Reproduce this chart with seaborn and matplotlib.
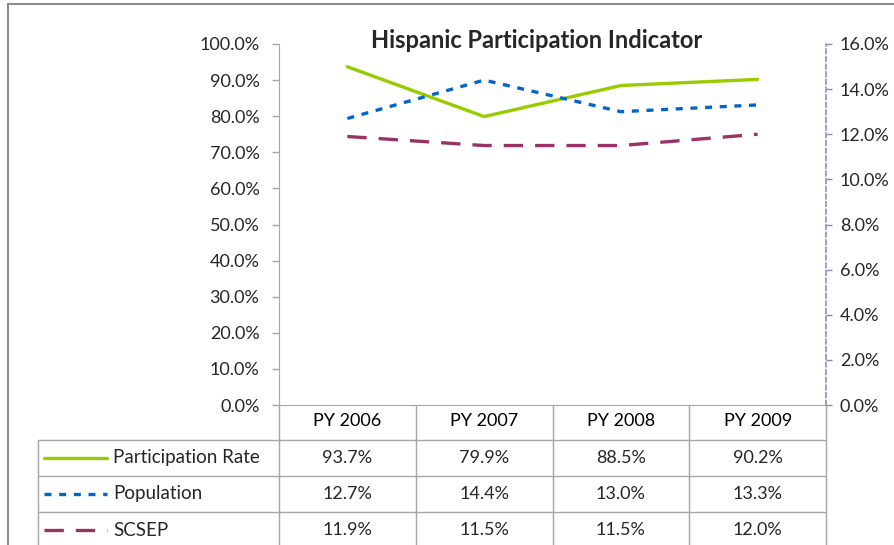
import matplotlib
matplotlib.use("Agg")
import matplotlib.pyplot as plt
import seaborn as sns
import pandas as pd
from matplotlib.lines import Line2D
from matplotlib.ticker import PercentFormatter

# --- Data ---
years = ["PY 2006", "PY 2007", "PY 2008", "PY 2009"]
participation = [0.937, 0.799, 0.885, 0.902]
population = [0.127, 0.144, 0.130, 0.133]
scsep = [0.119, 0.115, 0.115, 0.120]

GREEN = "#99CC00"
BLUE = "#0066CC"
MAROON = "#993366"
GRID = "#A6A6A6"
RAXIS = "#8686B8"

W, H = 894, 545
sns.set_style("white")
plt.rcParams["font.family"] = ["Lato", "DejaVu Sans"]
FS = 13


def fx(px):
    return px / W


def fy(py):
    return 1 - py / H


fig = plt.figure(figsize=(W / 100, H / 100), dpi=100)

# plot area in pixel coordinates
x0, x1, ytop, ybot = 279, 826, 44, 405
ax = fig.add_axes([fx(x0), fy(ybot), fx(x1) - fx(x0), fy(ytop) - fy(ybot)])
ax2 = ax.twinx()

df = pd.DataFrame({"year": years, "participation": participation,
                   "population": population, "scsep": scsep})

sns.lineplot(data=df, x="year", y="participation", ax=ax, color=GREEN,
             linewidth=2.4, sort=False)
sns.lineplot(data=df, x="year", y="population", ax=ax2, color=BLUE,
             linewidth=2.4, sort=False)
sns.lineplot(data=df, x="year", y="scsep", ax=ax2, color=MAROON,
             linewidth=2.4, sort=False)
ax2.lines[0].set_linestyle((0, (2.1, 2.3)))
ax2.lines[1].set_linestyle((0, (5.8, 3.6)))

ax.set_xlim(-0.5, 3.5)
ax.set_ylim(0, 1.0)
ax2.set_ylim(0, 0.16)
ax.set_yticks([i / 10 for i in range(11)])
ax2.set_yticks([i / 50 for i in range(9)])
ax.yaxis.set_major_formatter(PercentFormatter(1.0, decimals=1))
ax2.yaxis.set_major_formatter(PercentFormatter(1.0, decimals=1))
ax.set_xlabel("")
ax.set_ylabel("")
ax2.set_ylabel("")

ax.set_xticks(range(len(years)))
ax.set_xticklabels(years)
ax.tick_params(axis="x", length=0, pad=6, labelsize=FS, colors="black")
ax.tick_params(axis="y", left=True, length=5, width=1, color=GRID,
               labelsize=FS, pad=9)
ax2.tick_params(axis="y", right=True, length=4, width=1, color=RAXIS,
                labelsize=FS, pad=6)

for a in (ax, ax2):
    for s in a.spines.values():
        s.set_visible(False)
ax.spines["left"].set_visible(True)
ax.spines["left"].set_color(GRID)
ax.spines["bottom"].set_visible(True)
ax.spines["bottom"].set_color(GRID)
ax2.spines["right"].set_visible(True)
ax2.spines["right"].set_color(RAXIS)
ax2.spines["right"].set_linewidth(1.1)
ax2.spines["right"].set_linestyle((0, (3, 2)))

fig.text(fx(537), fy(41), "Hispanic Participation Indicator", ha="center",
         va="center", fontsize=17, fontweight="bold")

# --- Data table under the plot ---
rows = [("Participation Rate", participation, GREEN, "-"),
        ("Population", population, BLUE, (0, (2.1, 2.3))),
        ("SCSEP", scsep, MAROON, (0, (5.8, 3.6)))]
cols = [x0 + i * (x1 - x0) / 4 for i in range(5)]
row_y = [440, 476, 512, 548]
tl = 38


def hline(y, xa, xb):
    fig.add_artist(Line2D([fx(xa), fx(xb)], [fy(y), fy(y)], color=GRID, lw=1))


def vline(x, ya, yb):
    fig.add_artist(Line2D([fx(x), fx(x)], [fy(ya), fy(yb)], color=GRID, lw=1))


for c in cols:
    vline(c, ybot, 548)
vline(tl, 440, 548)
for y in row_y[:-1]:
    hline(y, tl, x1)

for i, (name, vals, color, ls) in enumerate(rows):
    yc = (row_y[i] + row_y[i + 1]) / 2
    fig.add_artist(Line2D([fx(44), fx(107)], [fy(yc), fy(yc)], color=color,
                          lw=2.4, linestyle=ls))
    fig.text(fx(113), fy(yc), name, ha="left", va="center", fontsize=FS + 0.5)
    for j, v in enumerate(vals):
        xc = (cols[j] + cols[j + 1]) / 2
        fig.text(fx(xc), fy(yc), f"{v * 100:.1f}%", ha="center", va="center",
                 fontsize=FS)

# outer chart border (top and left visible)
fig.add_artist(Line2D([fx(8), fx(8)], [fy(4), 0], color="#8C8C8C", lw=1.5))
fig.add_artist(Line2D([fx(8), 1], [fy(4), fy(4)], color="#8C8C8C", lw=1.5))

plt.savefig("out.png", dpi=100)
plt.close()
